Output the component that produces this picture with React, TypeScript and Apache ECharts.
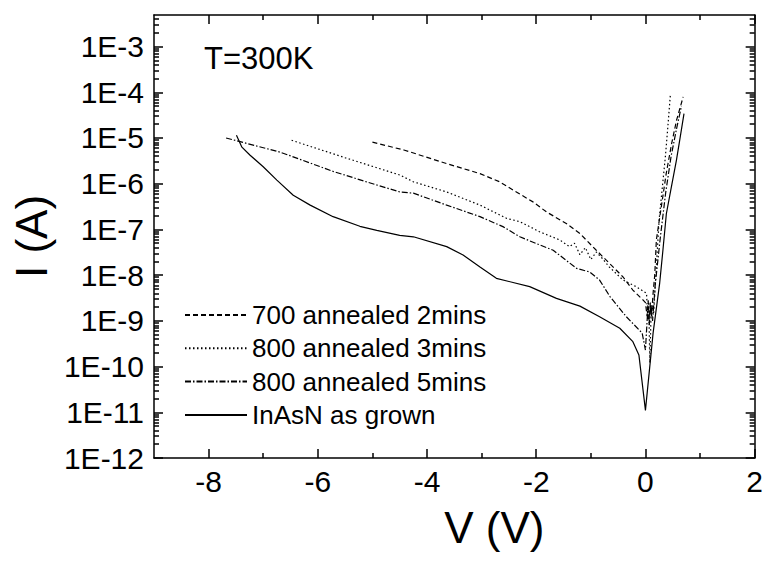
import React, { useEffect, useRef } from 'react';
import * as echarts from 'echarts';

// 700 annealed 2mins (dashed)
const v700 = [-5.0, -4.41, -3.64, -3.03, -2.67, -2.42, -2.06, -1.81, -1.45, -1.2, -0.9, -0.59, -0.41, -0.23, -0.05, 0.0, 0.03, 0.05, 0.07, 0.09, 0.11, 0.14, 0.17, 0.2, 0.29, 0.38, 0.48, 0.57, 0.69];
const i700 = [8.1e-6, 5.4e-6, 2.75e-6, 1.66e-6, 1.1e-6, 7.2e-7, 4.0e-7, 2.4e-7, 1.35e-7, 8.1e-8, 3.5e-8, 1.5e-8, 9.1e-9, 4.7e-9, 2.9e-9, 2.5e-9, 1.26e-9, 2.8e-9, 1.1e-9, 2.5e-9, 1.26e-9, 4.0e-9, 1.0e-8, 5.9e-8, 3.1e-7, 1.66e-6, 7.6e-6, 2.45e-5, 7.9e-5];

// 800 annealed 3mins (dotted)
const v800a = [-6.48, -5.5, -4.5, -4.25, -3.64, -3.03, -2.54, -2.3, -1.94, -1.57, -1.39, -1.3, -1.2, -1.1, -1.0, -0.9, -0.8, -0.66, -0.41, -0.17, 0.02, 0.04, 0.06, 0.08, 0.1, 0.12, 0.15, 0.2, 0.25, 0.31, 0.365, 0.41, 0.456];
const i800a = [8.9e-6, 3.7e-6, 1.55e-6, 1.1e-6, 6.6e-7, 3.4e-7, 1.74e-7, 1.48e-7, 8.9e-8, 5.9e-8, 4.2e-8, 5.0e-8, 2.8e-8, 4.0e-8, 2.2e-8, 3.2e-8, 2.4e-8, 1.5e-8, 7.8e-9, 5.6e-9, 4.0e-9, 1.3e-9, 2.6e-9, 1.2e-10, 1.0e-9, 2.2e-9, 1.4e-9, 1.6e-8, 1.6e-7, 8.5e-7, 3.9e-6, 1.74e-5, 8.7e-5];

// 800 annealed 5mins (dash-dot)
const v800b = [-7.68, -6.69, -5.72, -5.11, -4.5, -4.25, -3.64, -3.03, -2.61, -2.3, -1.94, -1.69, -1.45, -1.26, -1.02, -0.84, -0.65, -0.35, -0.06, 0.0, 0.04, 0.07, 0.1, 0.13, 0.18, 0.27, 0.37, 0.47, 0.57, 0.66];
const i800b = [1.0e-5, 4.9e-6, 1.86e-6, 1.1e-6, 6.6e-7, 6.2e-7, 3.4e-7, 1.9e-7, 1.15e-7, 6.9e-8, 4.6e-8, 3.5e-8, 2.1e-8, 1.4e-8, 1.17e-8, 7.8e-9, 3.4e-9, 1.23e-9, 5.4e-10, 2.3e-10, 1.6e-9, 8.0e-10, 2.2e-9, 1.0e-9, 6.3e-9, 6.3e-8, 6.3e-7, 4.0e-6, 1.6e-5, 5.0e-5];

// InAsN as grown (solid)
const vGrown = [-7.49, -7.39, -7.24, -7.0, -6.75, -6.45, -6.14, -5.72, -5.23, -4.92, -4.5, -4.25, -3.64, -3.34, -3.03, -2.73, -2.12, -1.63, -1.2, -0.84, -0.47, -0.23, -0.12, 0.0, 0.14, 0.26, 0.32, 0.383, 0.475, 0.566, 0.627, 0.706];
const iGrown = [1.15e-5, 6.3e-6, 4.2e-6, 2.35e-6, 1.2e-6, 5.6e-7, 3.4e-7, 1.9e-7, 1.17e-7, 9.5e-8, 7.4e-8, 6.9e-8, 4.2e-8, 2.75e-8, 1.5e-8, 8.5e-9, 5.6e-9, 3.1e-9, 2.1e-9, 1.23e-9, 6.9e-10, 3.5e-10, 1.8e-10, 1.1e-11, 5.4e-10, 6.6e-9, 3.5e-8, 2.2e-7, 8.5e-7, 3.2e-6, 8.9e-6, 3.4e-5];

const seriesNames = ['700 annealed 2mins', '800 annealed 3mins', '800 annealed 5mins', 'InAsN as grown'];

const xMajor = [-8, -6, -4, -2, 0, 2];
const xMinor = [-7, -5, -3, -1, 1];
const yExponents = [-12, -11, -10, -9, -8, -7, -6, -5, -4, -3];
const xMin = -9;
const xMax = 2;
const yMinExp = -12;
const yMaxExp = -2.31;

const FONT = '"Liberation Sans", Arial, Helvetica, sans-serif';

function toLog(v: number[], cur: number[]) {
  return v.map((x, k) => [x, Math.log10(cur[k])]);
}

function buildYMinor() {
  const out: number[] = [];
  for (const n of yExponents) {
    for (let k = 2; k <= 9; k++) {
      const val = n + Math.log10(k);
      if (val < yMaxExp) out.push(val);
    }
  }
  return out;
}

export default function App() {
  const ref = useRef<HTMLDivElement>(null);
  useEffect(() => {
    if (!ref.current) return;
    const chart = echarts.init(ref.current, undefined, { renderer: 'svg' });
    const yMinor = buildYMinor();
    const lineBlack = { color: '#000', width: 1.5 };
    const mkX = (pos: string, ticks: number[], len: number, main: boolean) => ({
      type: 'value',
      min: xMin,
      max: xMax,
      position: pos,
      axisLine: { show: main, onZero: false, lineStyle: lineBlack },
      axisTick: { show: true, inside: true, length: len, customValues: ticks, lineStyle: lineBlack },
      axisLabel: main && pos === 'bottom'
        ? { show: true, customValues: xMajor, fontSize: 30, color: '#000', margin: 8, fontFamily: FONT }
        : { show: false },
      splitLine: { show: false },
      ...(main && pos === 'bottom'
        ? { name: 'V (V)', nameLocation: 'middle', nameGap: 47, nameTextStyle: { fontSize: 44, color: '#000', fontFamily: FONT, padding: [0, 0, 0, 80] } }
        : {}),
    });
    const mkY = (pos: string, ticks: number[], len: number, main: boolean) => ({
      type: 'value',
      min: yMinExp,
      max: yMaxExp,
      position: pos,
      axisLine: { show: main, onZero: false, lineStyle: lineBlack },
      axisTick: { show: true, inside: true, length: len, customValues: ticks, lineStyle: lineBlack },
      axisLabel: main && pos === 'left'
        ? { show: true, customValues: yExponents, fontSize: 30, color: '#000', margin: 10, fontFamily: FONT, formatter: (v: number) => '1E' + Math.round(v) }
        : { show: false },
      splitLine: { show: false },
      ...(main && pos === 'left'
        ? { name: 'I (A)', nameLocation: 'middle', nameGap: 96, nameRotate: 90, nameTextStyle: { fontSize: 44, color: '#000', fontFamily: FONT } }
        : {}),
    });
    const styles: any[] = [[5, 3], [1.5, 2.5], [6, 2, 1.5, 2], 'solid'];
    const datas = [toLog(v700, i700), toLog(v800a, i800a), toLog(v800b, i800b), toLog(vGrown, iGrown)];
    chart.setOption({
      animation: false,
      backgroundColor: '#fff',
      grid: { left: 154, right: 11, top: 15, bottom: 105, containLabel: false },
      xAxis: [
        mkX('bottom', xMajor, 9, true),
        mkX('bottom', xMinor, 5, false),
        mkX('top', xMajor, 9, true),
        mkX('top', xMinor, 5, false),
      ],
      yAxis: [
        mkY('left', yExponents, 9, true),
        mkY('left', yMinor, 5, false),
        mkY('right', yExponents, 9, true),
        mkY('right', yMinor, 5, false),
      ],
      legend: {
        orient: 'vertical',
        left: 184,
        top: 302,
        itemWidth: 62,
        itemHeight: 14,
        itemGap: 7.3,
        padding: 0,
        textStyle: { fontSize: 26, color: '#000', fontFamily: FONT },
        itemStyle: { opacity: 0 },
        data: seriesNames,
      },
      graphic: [
        {
          type: 'text',
          left: 204,
          top: 43,
          style: { text: 'T=300K', fontSize: 31, fill: '#000', fontFamily: FONT },
        },
      ],
      series: datas.map((d, k) => ({
        name: seriesNames[k],
        type: 'line',
        data: d,
        xAxisIndex: 0,
        yAxisIndex: 0,
        showSymbol: false,
        symbol: 'none',
        clip: true,
        lineStyle: { color: '#000', width: 1.2, type: styles[k] },
        itemStyle: { color: '#000' },
      })),
    });
    return () => chart.dispose();
  }, []);
  return <div ref={ref} style={{ position: 'absolute', left: 0, top: 0, width: 766, height: 563, background: '#fff' }} />;
}
